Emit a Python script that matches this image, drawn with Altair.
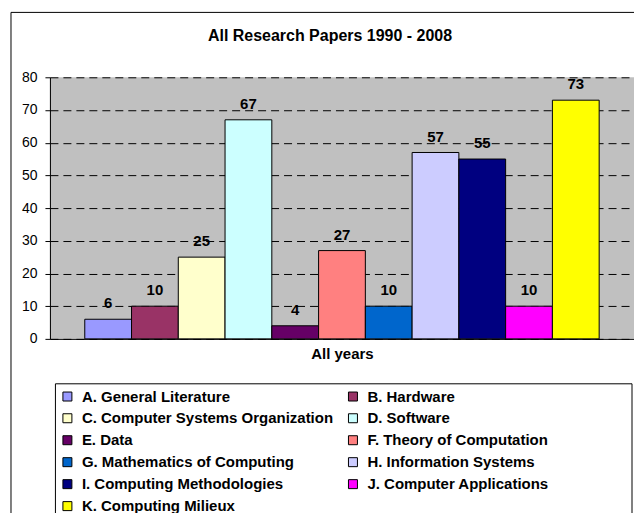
import altair as alt
import pandas as pd

series = [
    "A. General Literature", "B. Hardware", "C. Computer Systems Organization",
    "D. Software", "E. Data", "F. Theory of Computation",
    "G. Mathematics of Computing", "H. Information Systems",
    "I. Computing Methodologies", "J. Computer Applications", "K. Computing Milieux",
]
values = [6, 10, 25, 67, 4, 27, 10, 57, 55, 10, 73]
colors = ["#9999FF", "#993366", "#FFFFCC", "#CCFFFF", "#660066", "#FF8080",
          "#0066CC", "#CCCCFF", "#000080", "#FF00FF", "#FFFF00"]
y_ticks = [0, 10, 20, 30, 40, 50, 60, 70, 80]

df = pd.DataFrame({"series": series, "value": values})
FONT = "Liberation Sans"

x_enc = alt.X("series:N", sort=series,
              scale=alt.Scale(paddingInner=0, paddingOuter=0.745),
              axis=alt.Axis(labels=False, ticks=False, domain=True, domainColor="black",
                            title="All years", titleFontSize=15, titleFontWeight="bold",
                            titleFont=FONT, titleColor="black", titlePadding=8))
y_enc = alt.Y("value:Q", scale=alt.Scale(domain=[0, 80], nice=False),
              axis=alt.Axis(values=y_ticks, title=None, grid=True, gridColor="black",
                            gridDash=[8, 5], gridOpacity=1, gridWidth=1,
                            labelOverlap=False,
                            domainColor="black", tickColor="black", tickSize=5,
                            labelFont=FONT, labelFontSize=14, labelColor="black",
                            labelPadding=8))

bars = alt.Chart(df).mark_bar(stroke="black", strokeWidth=1).encode(
    x=x_enc, y=y_enc,
    color=alt.Color("series:N", sort=series,
                    scale=alt.Scale(domain=series, range=colors),
                    legend=alt.Legend(title=None, orient="none", legendX=10, legendY=312,
                                      direction="horizontal",
                                      columns=2, columnPadding=12, rowPadding=6,
                                      symbolType="square", symbolSize=81,
                                      symbolStrokeColor="black", symbolStrokeWidth=1,
                                      labelFont=FONT, labelFontSize=15,
                                      labelFontWeight="bold", labelColor="black",
                                      labelOffset=7, labelLimit=400)),
)

labels = alt.Chart(df).mark_text(baseline="alphabetic", dy=-11, fontSize=15,
                                 fontWeight="bold", font=FONT, color="black").encode(
    x=x_enc, y=y_enc, text="value:Q")

one = alt.Data(values=[{}])
frame = alt.Chart(one).mark_rect(fill=None, stroke="black", strokeWidth=1, clip=False).encode(
    x=alt.value(-39), x2=alt.value(700), y=alt.value(-65), y2=alt.value(600))
legend_box = alt.Chart(one).mark_rect(fill="white", stroke="black", strokeWidth=1, clip=False).encode(
    x=alt.value(5.5), x2=alt.value(583), y=alt.value(307), y2=alt.value(600))

chart = alt.layer(frame, legend_box, bars, labels).properties(
    width=585, height=262,
    title=alt.Title("All Research Papers 1990 - 2008", fontSize=16, fontWeight="bold",
                    font=FONT, color="black", anchor="middle", offset=-32, dx=-12),
    autosize=alt.AutoSizeParams(type="none"),
    padding={"left": 42, "top": 69, "right": 0, "bottom": 174},
    background="white",
).configure_view(fill="#C0C0C0", stroke=None)

chart.save("out.html", embed_options={"renderer": "svg", "actions": False})
